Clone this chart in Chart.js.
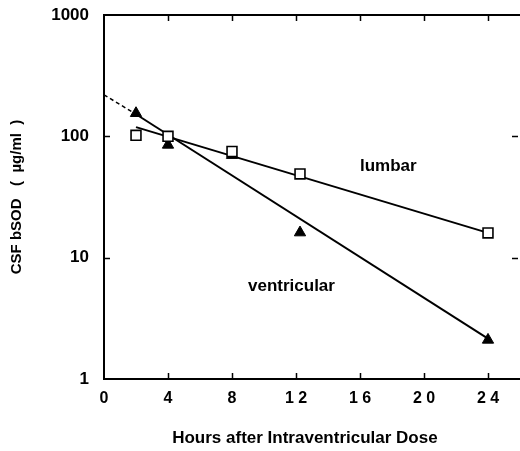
<!DOCTYPE html>
<html><head><meta charset="utf-8">
<script src="https://cdn.jsdelivr.net/npm/chart.js@4.4.1/dist/chart.umd.min.js"></script>
<style>html,body{margin:0;padding:0;background:#fff;}</style>
</head><body>
<canvas id="c" width="520" height="451"></canvas>
<script>
const hours = [2, 4, 8, 12.25, 24];
const lumbar = [102, 100, 75, 49, 16];
const ventricular = [155, 85, 70, 16.1, 2.1];
const lumbarFitX = [2, 24];
const lumbarFit = [119, 16];
const ventricularFitX = [2, 24];
const ventricularFit = [152, 2.15];
const extrapX = [0, 2];
const extrapY = [220, 152];
const xTicks = [0, 4, 8, 12, 16, 20, 24];
const xTickLabels = ['0', '4', '8', '1 2', '1 6', '2 0', '2 4'];
const yTicks = [1, 10, 100, 1000];
const yTickLabels = ['1', '10', '100', '1000'];
const seriesNames = ['lumbar', 'ventricular'];

const FONT = '"Liberation Sans", Arial, Helvetica, sans-serif';
const pts = (xs, ys) => xs.map((x, i) => ({x: x, y: ys[i]}));

const decor = {
  id: 'decor',
  afterDraw(chart) {
    const ctx = chart.ctx, ca = chart.chartArea;
    const xs = chart.scales.x, ys = chart.scales.y;
    ctx.save();
    ctx.strokeStyle = '#000';
    ctx.lineWidth = 2;
    ctx.beginPath();
    ctx.moveTo(ca.left - 1, ca.top);
    ctx.lineTo(ca.right, ca.top);
    ctx.stroke();
    ctx.lineWidth = 1.5;
    xTicks.forEach(v => {
      if (v === 0) return;
      const px = Math.round(xs.getPixelForValue(v)) + 0.5;
      ctx.beginPath();
      ctx.moveTo(px, ca.bottom); ctx.lineTo(px, ca.bottom - 6);
      ctx.moveTo(px, ca.top); ctx.lineTo(px, ca.top + 6);
      ctx.stroke();
    });
    yTicks.forEach(v => {
      if (v === 1 || v === 1000) return;
      const py = Math.round(ys.getPixelForValue(v)) + 0.5;
      ctx.beginPath();
      ctx.moveTo(ca.left, py); ctx.lineTo(ca.left + 6, py);
      ctx.moveTo(ca.right - 2, py); ctx.lineTo(ca.right - 8, py);
      ctx.stroke();
    });
    ctx.fillStyle = '#000';
    ctx.font = 'bold 17px ' + FONT;
    ctx.textAlign = 'left';
    ctx.textBaseline = 'middle';
    ctx.fillText(seriesNames[0], xs.getPixelForValue(16), ys.getPixelForValue(57));
    ctx.fillText(seriesNames[1], xs.getPixelForValue(9), ys.getPixelForValue(5.8));
    ctx.restore();
  }
};

const noPad = s => { s.paddingLeft = 0; s.paddingRight = 0; s.paddingTop = 0; s.paddingBottom = 0; };

new Chart(document.getElementById('c'), {
  type: 'scatter',
  data: {
    datasets: [
      {label: seriesNames[0], data: pts(hours, lumbar), pointStyle: 'rect', pointRadius: 7,
       backgroundColor: '#fff', borderColor: '#000', borderWidth: 1.6, showLine: false, order: 0},
      {label: seriesNames[1], data: pts(hours, ventricular), pointStyle: 'triangle', pointRadius: 6.5,
       backgroundColor: '#000', borderColor: '#000', borderWidth: 1, showLine: false, order: 1},
      {label: 'lumbar fit', data: pts(lumbarFitX, lumbarFit), showLine: true, pointRadius: 0,
       borderColor: '#000', borderWidth: 2, order: 2},
      {label: 'ventricular fit', data: pts(ventricularFitX, ventricularFit), showLine: true, pointRadius: 0,
       borderColor: '#000', borderWidth: 2, order: 3},
      {label: 'extrapolation', data: pts(extrapX, extrapY), showLine: true, pointRadius: 0,
       borderColor: '#000', borderWidth: 1.5, borderDash: [4, 3], order: 4}
    ]
  },
  options: {
    responsive: false,
    devicePixelRatio: 1,
    animation: false,
    layout: {autoPadding: false, padding: {top: 15, left: 0, right: 0, bottom: 0}},
    plugins: {legend: {display: false}, tooltip: {enabled: false}},
    scales: {
      x: {
        type: 'linear', position: 'bottom', min: 0, max: 26,
        afterBuildTicks: s => { s.ticks = xTicks.map(v => ({value: v})); },
        afterFit: s => { s.height = 72; noPad(s); },
        grid: {display: false, drawTicks: false},
        border: {display: true, color: '#000', width: 2},
        ticks: {
          autoSkip: false, maxRotation: 0, padding: 10, color: '#000',
          font: {family: FONT, size: 16, weight: 'bold'},
          callback: v => { const i = xTicks.indexOf(v); return i >= 0 ? xTickLabels[i] : ''; }
        },
        title: {display: true, text: 'Hours after Intraventricular Dose   ', color: '#000',
          font: {family: FONT, size: 17, weight: 'bold'}, padding: {top: 0, bottom: 2}}
      },
      y: {
        type: 'logarithmic', position: 'left', min: 1, max: 1000,
        afterBuildTicks: s => { s.ticks = yTicks.map(v => ({value: v})); },
        afterFit: s => { s.width = 104; noPad(s); },
        grid: {display: false, drawTicks: false},
        border: {display: true, color: '#000', width: 2},
        ticks: {
          autoSkip: false, padding: 15, color: '#000',
          font: {family: FONT, size: 17, weight: 'bold'},
          callback: v => { const i = yTicks.indexOf(v); return i >= 0 ? yTickLabels[i] : ''; }
        },
        title: {display: true, text: 'CSF bSOD   (  µg/ml  )', color: '#000',
          font: {family: FONT, size: 15, weight: 'bold'}, padding: {top: 8, bottom: 0}}
      }
    }
  },
  plugins: [decor]
});
</script>
</body></html>
